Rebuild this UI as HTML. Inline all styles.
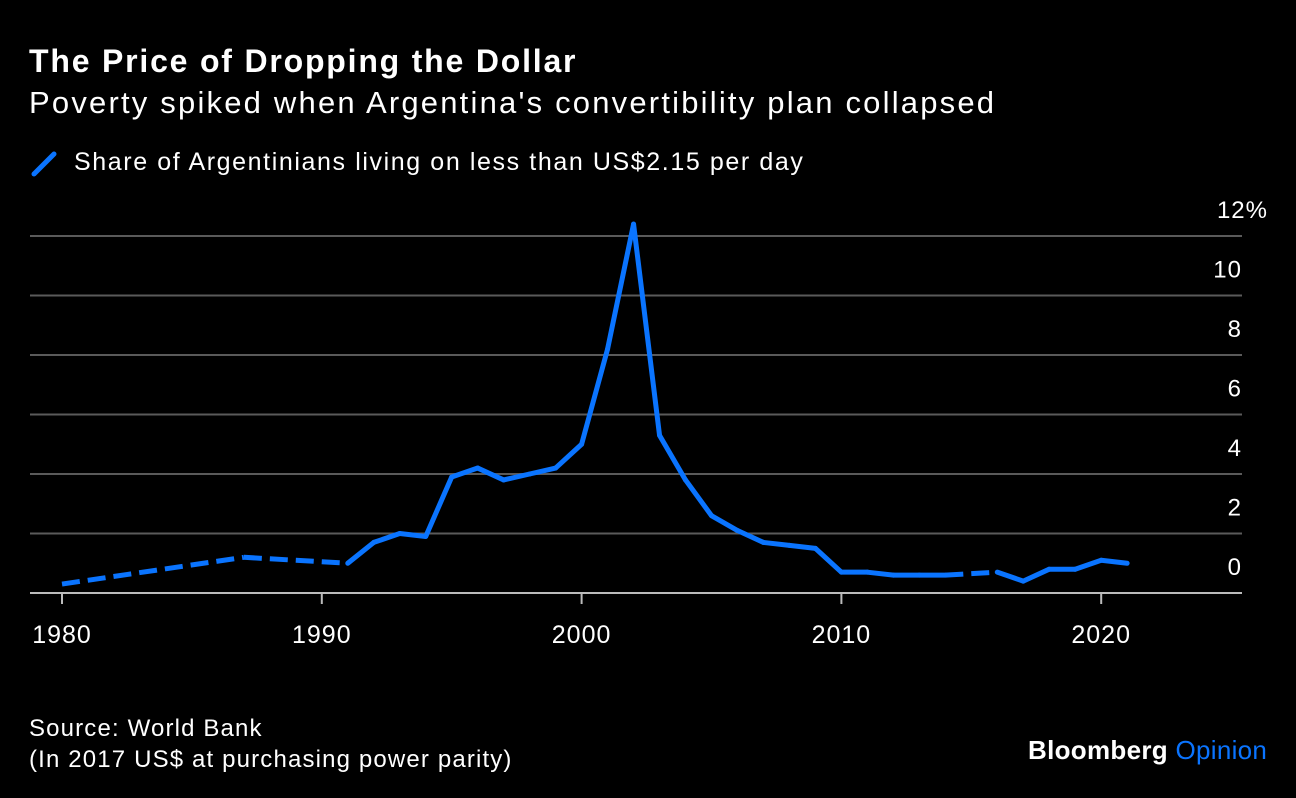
<!DOCTYPE html>
<html><head><meta charset="utf-8"><style>
body{margin:0;background:#000;width:1296px;height:798px;overflow:hidden;font-family:"Liberation Sans",sans-serif;color:#fff}
.t{position:absolute;white-space:nowrap}
</style></head><body>
<div class="t" style="left:29px;top:43px;font-size:32px;font-weight:bold;letter-spacing:1.8px">The Price of Dropping the Dollar</div>
<div class="t" style="left:29px;top:85px;font-size:31px;letter-spacing:2.2px">Poverty spiked when Argentina's convertibility plan collapsed</div>
<div>
<svg class="t" style="left:30px;top:150px" width="30" height="28"><line x1="4" y1="24" x2="24" y2="4" stroke="#0a74ff" stroke-width="5" stroke-linecap="round"/></svg>
<div class="t" style="left:74px;top:148px;font-size:25px;letter-spacing:1.6px">Share of Argentinians living on less than US$2.15 per day</div>
</div>
<svg id="chart" style="position:absolute;left:0;top:0" width="1296" height="798"></svg>
<div class="t" style="left:29px;top:713px;font-size:24px;line-height:31px;letter-spacing:1.15px">Source: World Bank<br>(In 2017 US$ at purchasing power parity)</div>
<div class="t" style="left:1028px;top:735px;font-size:26px;font-weight:bold;letter-spacing:0.3px">Bloomberg <span style="color:#0a74ff;font-weight:normal">Opinion</span></div>
<script>
const years=[1980,1987,1991,1992,1993,1994,1995,1996,1997,1998,1999,2000,2001,2002,2003,2004,2005,2006,2007,2008,2009,2010,2011,2012,2013,2014,2016,2017,2018,2019,2020,2021];
const values=[0.3,1.2,1.0,1.7,2.0,1.9,3.9,4.2,3.8,4.0,4.2,5.0,8.2,12.4,5.3,3.8,2.6,2.1,1.7,1.6,1.5,0.7,0.7,0.6,0.6,0.6,0.7,0.4,0.8,0.8,1.1,1.0];
const yTicks=[0,2,4,6,8,10,12];
const xTicks=[1980,1990,2000,2010,2020];
const svg=document.getElementById('chart');const NS='http://www.w3.org/2000/svg';
const x=v=>62+(v-1980)*25.98;const y=v=>593-v*29.75;
function mk(t,a,name){const e=document.createElementNS(NS,t);for(const k in a)e.setAttribute(k,a[k]);


svg.appendChild(e);return e;}
yTicks.forEach(v=>{
 if(v>0)mk('line',{x1:30,x2:1242,y1:y(v),y2:y(v),stroke:'#5a5a5a','stroke-width':2},'gridline');
 const t=mk('text',{x:1242,y:y(v)-18,'text-anchor':'end','font-size':24,'letter-spacing':1,fill:'#fff','font-family':'Liberation Sans, sans-serif'},'y-tick-label');
 t.textContent=v+(v===12?'%':'');
 if(v===12){t.setAttribute('x',1268);}
});
mk('line',{x1:30,x2:1242,y1:593,y2:593,stroke:'#bbb','stroke-width':2},'x-axis');
xTicks.forEach(v=>{
 mk('line',{x1:x(v),x2:x(v),y1:593,y2:604,stroke:'#bbb','stroke-width':2},'x-tick');
 const t=mk('text',{x:x(v),y:643,'text-anchor':'middle','font-size':25,'letter-spacing':1,fill:'#fff','font-family':'Liberation Sans, sans-serif'},'x-tick-label');t.textContent=v;
});
for(let i=0;i<years.length-1;i++){
 const gap=years[i+1]-years[i]>1;
 const a={x1:x(years[i]),y1:y(values[i]),x2:x(years[i+1]),y2:y(values[i+1]),stroke:'#0a74ff','stroke-width':5,'stroke-linecap':gap?'butt':'round'};
 if(gap)a['stroke-dasharray']='18 8';
 mk('line',a,'poverty-line-segment');
}
</script>
</body></html>
